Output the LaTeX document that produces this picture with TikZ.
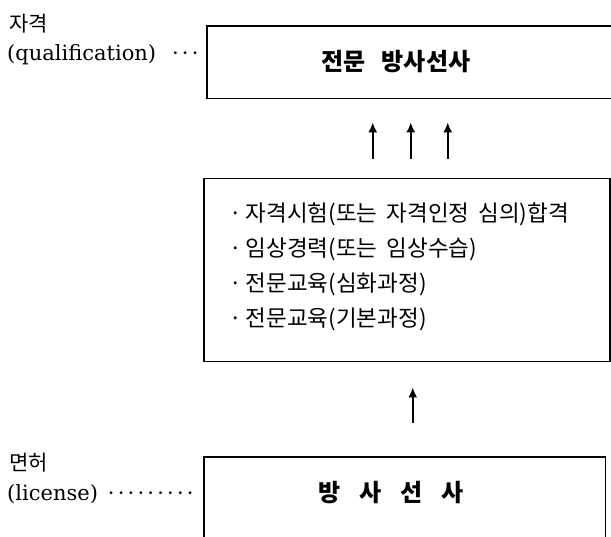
\documentclass[tikz,border=0pt]{standalone}
\usepackage{fontspec}
\setmainfont{DejaVu Serif}
\newfontfamily\kr{Noto Sans CJK KR}
\usetikzlibrary{arrows.meta}
\tikzset{
  boxline/.style={line width=1.5pt},
  arr/.style={line width=1.8pt,-{Latex[length=10pt,width=9pt]}},
  lbl/.style={anchor=west,inner sep=0pt,font=\fontsize{21}{25}\selectfont},
  item/.style={anchor=west,inner sep=0pt,font=\kr\fontsize{22.5}{26}\selectfont},
  title/.style={inner sep=0pt,font=\kr\bfseries\fontsize{24}{28}\selectfont},
  shell/.style={inner sep=0pt,anchor=north west,draw=none}
}
\newcommand\dd{·\kern3.2pt}
\begin{document}
\begin{tikzpicture}[x=1pt,y=-1pt]
\useasboundingbox (0,0) rectangle (611,537);
% top box (open on the right)
\node[shell,minimum width=404pt,minimum height=72pt] (qbox) at (207,26) {};
\draw[boxline] (qbox.north east) -- (qbox.north west) -- (qbox.south west) -- (qbox.south east);
\node[title] (qtext) at (396,62) {전문\hspace{16pt}방사선사};
% middle box
\node[shell,draw,boxline,minimum width=406pt,minimum height=183pt] (mid) at (203,178) {};
\node[item] (i1) at (229,214) {·\hspace{4pt}자격시험(또는\hspace{9pt}자격인정\hspace{9pt}심의)합격};
\node[item] (i2) at (229,249) {·\hspace{4pt}임상경력(또는\hspace{9pt}임상수습)};
\node[item] (i3) at (229,284) {·\hspace{4pt}전문교육(심화과정)};
\node[item] (i4) at (229,319) {·\hspace{4pt}전문교육(기본과정)};
% bottom box (open at the bottom)
\node[shell,minimum width=401pt,minimum height=80pt] (lbox) at (204,457) {};
\draw[boxline] (lbox.south west) -- (lbox.north west) -- (lbox.north east) -- (lbox.south east);
\node[title] (ltext) at (391,493) {방\hspace{19pt}사\hspace{19pt}선\hspace{19pt}사};
% arrows
\foreach \dx in {-34,4,41}{
  \draw[arr,shorten <=19pt,shorten >=24pt] ([xshift=\dx pt]mid.north) -- ([xshift=\dx pt]mid.north |- qbox.south);
}
\draw[arr,shorten <=34pt,shorten >=25pt] ([xshift=6pt]mid.south |- lbox.north) -- ([xshift=6pt]mid.south);
% side labels
\node[lbl,font=\kr\fontsize{21}{25}\selectfont] (q1) at (9,24) {자격};
\node[lbl] (q2) at (7,55) {(qualification)\hspace{16pt}\dd\dd·};
\node[lbl,font=\kr\fontsize{21}{25}\selectfont] (l1) at (9,463) {면허};
\node[lbl] (l2) at (7,494) {(license)\hspace{10pt}\dd\dd\dd\dd\dd\dd\dd\dd·};
\end{tikzpicture}
\end{document}
